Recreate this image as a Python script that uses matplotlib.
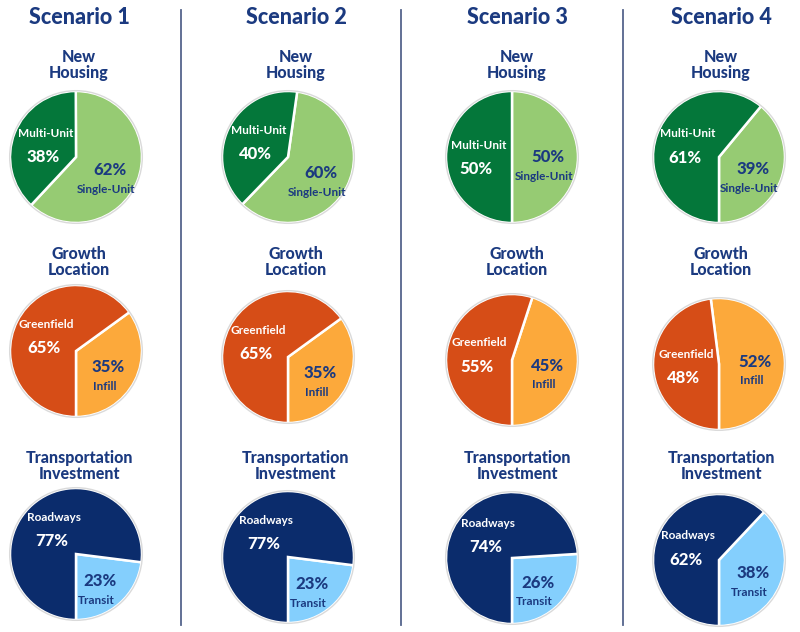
import matplotlib.pyplot as plt
from matplotlib.lines import Line2D
from matplotlib.patches import Circle
import numpy as np

# ---- data (light slice first, dark slice second) ----
SCENARIOS = ["Scenario 1", "Scenario 2", "Scenario 3", "Scenario 4"]
METRICS = ["New\nHousing", "Growth\nLocation", "Transportation\nInvestment"]

housing_labels = ["Single-Unit", "Multi-Unit"]
housing_single = [62, 60, 50, 39]
housing_multi = [38, 40, 50, 61]

growth_labels = ["Infill", "Greenfield"]
growth_infill = [35, 35, 45, 52]
growth_greenfield = [65, 65, 55, 48]

transport_labels = ["Transit", "Roadways"]
transport_transit = [23, 23, 26, 38]
transport_roadways = [77, 77, 74, 62]

# ---- styling / layout ----
W, H = 800, 632
NAVY_TEXT = "#1B3A80"
COLORS = [
    ("#96CB73", "#04773A"),   # housing: light green, dark green
    ("#FCA93B", "#D64D17"),   # growth: orange, red-orange
    ("#84CFFD", "#0B2C6C"),   # transport: light blue, navy
]
COL_X = [76, 288, 512, 719]          # pie centres (px)
TITLE_X = [79, 296, 517, 721]
ROW_Y = [[157, 157, 157, 157],
         [351, 357, 360, 364],
         [554, 557, 558, 560]]
SUBTITLE_Y = [65, 262, 466]
RADIUS = 66
# start angle of the light slice (counter-clockwise from 3 o'clock)
START = [[-133, -134, -90, -90],
         [-90, -90, -90, -90],
         [-90, -90, -90, -90]]
DIVIDER_X = [181, 401, 623]

FONT = ["Lato", "DejaVu Sans"]
plt.rcParams["font.family"] = FONT

rows = [
    (housing_labels, housing_single, housing_multi),
    (growth_labels, growth_infill, growth_greenfield),
    (transport_labels, transport_transit, transport_roadways),
]

fig = plt.figure(figsize=(W / 100, H / 100), dpi=100)
fig.patch.set_facecolor("white")


def fx(px):
    return px / W


def fy(py):
    return 1 - py / H


for c, name in enumerate(SCENARIOS):
    fig.text(fx(TITLE_X[c]), fy(17), name, ha="center", va="center",
             fontsize=15.5, fontweight="black", color=NAVY_TEXT)

for r, (labels, light_vals, dark_vals) in enumerate(rows):
    light_c, dark_c = COLORS[r]
    for c in range(len(SCENARIOS)):
        fig.text(fx(TITLE_X[c]), fy(SUBTITLE_Y[r]), METRICS[r], ha="center",
                 va="center", fontsize=11.5, fontweight="black",
                 color=NAVY_TEXT, linespacing=0.95)

        cx, cy = COL_X[c], ROW_Y[r][c]
        box = RADIUS * 1.1
        ax = fig.add_axes([fx(cx - box), fy(cy + box), 2 * box / W, 2 * box / H])
        ax.set_aspect("equal")
        ax.axis("off")

        vals = [light_vals[c], dark_vals[c]]
        wedges, _ = ax.pie(vals, colors=[light_c, dark_c], startangle=START[r][c],
                           counterclock=True, radius=1.0,
                           wedgeprops=dict(edgecolor="white", linewidth=1.8))
        ax.add_patch(Circle((0, 0), 1.005, fill=False, edgecolor="#DADADA",
                            linewidth=1.0))
        ax.set_xlim(-1.1, 1.1)
        ax.set_ylim(-1.1, 1.1)

        for i, w in enumerate(wedges):
            mid = np.deg2rad((w.theta1 + w.theta2) / 2)
            d = np.array([np.cos(mid), np.sin(mid)])
            if i == 0:   # light slice: percent, name below
                p = 0.55 * d
                ax.text(p[0], p[1], f"{vals[i]}%", ha="center", va="center",
                        fontsize=12, fontweight="black", color=NAVY_TEXT)
                ax.text(p[0] - 0.06, p[1] - 0.29, labels[i], ha="center",
                        va="center", fontsize=8.5, fontweight="bold",
                        color=NAVY_TEXT)
            else:        # dark slice: name above, percent below
                p = 0.5 * d
                ax.text(p[0], p[1] + 0.18, labels[i], ha="center", va="center",
                        fontsize=8.5, fontweight="bold", color="white")
                ax.text(p[0] - 0.04, p[1] - 0.18, f"{vals[i]}%", ha="center",
                        va="center", fontsize=12, fontweight="black",
                        color="white")

for x in DIVIDER_X:
    fig.add_artist(Line2D([fx(x), fx(x)], [fy(10), fy(625)],
                          color="#55658C", linewidth=1.3))

fig.savefig("out.png", dpi=100, facecolor="white")
